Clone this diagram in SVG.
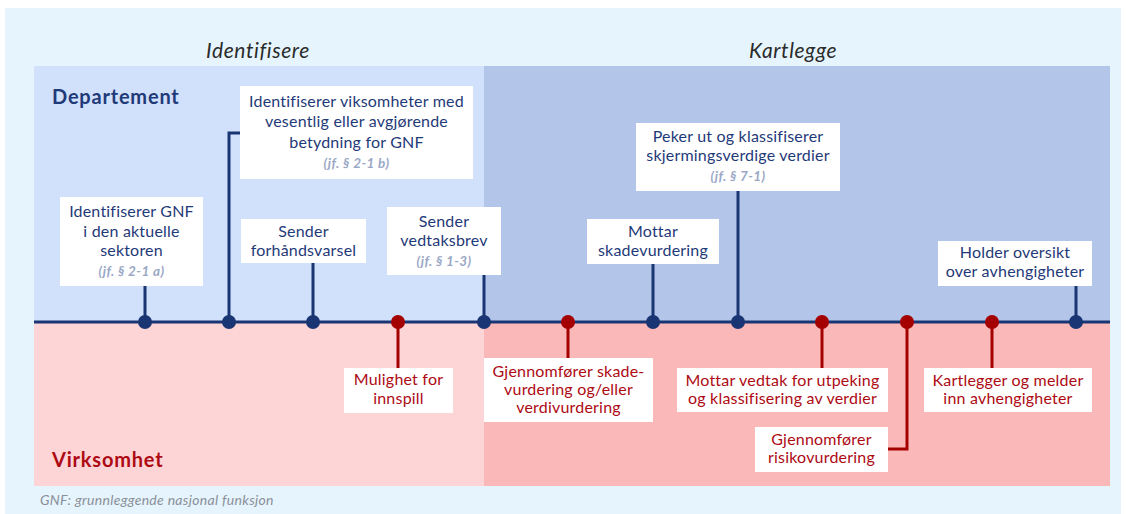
<svg xmlns="http://www.w3.org/2000/svg" width="1126" height="514" viewBox="0 0 1126 514">
  <style>
    .box { fill: #ffffff; }
    .t { font-family: Lato, "Open Sans", sans-serif; font-size: 16px; letter-spacing: 0.2px; text-anchor: middle; }
    .dep { fill: #1f3a78; }
    .vir { fill: #ad0a14; }
    .ref { font-family: Lato, "Open Sans", sans-serif; font-size: 13.5px; font-style: italic; font-weight: bold; letter-spacing: 0.4px; fill: #9aa8c6; text-anchor: middle; }
    .phase { font-family: Lato, "Open Sans", sans-serif; font-size: 21px; font-style: italic; letter-spacing: 0.6px; fill: #2b2b2b; text-anchor: middle; }
    .lane { font-family: Lato, "Open Sans", sans-serif; font-size: 20px; font-weight: bold; letter-spacing: 0.8px; }
    .sd { stroke: #1a3573; stroke-width: 3; fill: none; }
    .sr { stroke: #a50000; stroke-width: 3; fill: none; }
    .dd { fill: #1a3573; }
    .dr { fill: #a50000; }
  </style>

  <!-- background and lanes -->
  <rect x="5" y="8" width="1116" height="506" fill="#e6f5fd"/>
  <rect x="34" y="66" width="450" height="256" fill="#d1e0fb"/>
  <rect x="484" y="66" width="626" height="256" fill="#b3c6e9"/>
  <rect x="34" y="322" width="450" height="164" fill="#fdd5d6"/>
  <rect x="484" y="322" width="626" height="164" fill="#fbb8b8"/>

  <text class="phase" x="258" y="58">Identifisere</text>
  <text class="phase" x="793" y="58">Kartlegge</text>
  <text class="lane dep" x="52" y="104">Departement</text>
  <text class="lane vir" x="52" y="467">Virksomhet</text>
  <text x="40" y="505" font-family="Lato, sans-serif" font-size="14" font-style="italic" letter-spacing="0.3" fill="#8a8f99">GNF: grunnleggende nasjonal funksjon</text>

  <!-- connectors: timeline, stems and points -->
  <g id="connectors">
    <line class="sd" x1="34" y1="322" x2="1110" y2="322"/>
    <path class="sd" d="M145 286 V322"/>
    <path class="sd" d="M229 322 V133 H240"/>
    <path class="sd" d="M313 263 V322"/>
    <path class="sd" d="M484 275 V322"/>
    <path class="sd" d="M653 264 V322"/>
    <path class="sd" d="M738 191 V322"/>
    <path class="sd" d="M1076 286 V322"/>
    <path class="sr" d="M398 322 V368"/>
    <path class="sr" d="M568 322 V358"/>
    <path class="sr" d="M822 322 V368"/>
    <path class="sr" d="M907 322 V449 H888"/>
    <path class="sr" d="M992 322 V368"/>
    <circle class="dd" cx="145" cy="322" r="7"/>
    <circle class="dd" cx="229" cy="322" r="7"/>
    <circle class="dd" cx="313" cy="322" r="7"/>
    <circle class="dr" cx="398" cy="322" r="7"/>
    <circle class="dd" cx="484" cy="322" r="7"/>
    <circle class="dr" cx="568" cy="322" r="7"/>
    <circle class="dd" cx="653" cy="322" r="7"/>
    <circle class="dd" cx="738" cy="322" r="7"/>
    <circle class="dr" cx="822" cy="322" r="7"/>
    <circle class="dr" cx="907" cy="322" r="7"/>
    <circle class="dr" cx="992" cy="322" r="7"/>
    <circle class="dd" cx="1076" cy="322" r="7"/>
  </g>

  <!-- Departement steps -->
  <g id="identifiserer-gnf">
    <rect class="box" x="60" y="197" width="143" height="89"/>
    <text class="t dep" x="131.5" y="217">Identifiserer GNF</text>
    <text class="t dep" x="131.5" y="237">i den aktuelle</text>
    <text class="t dep" x="131.5" y="256">sektoren</text>
    <text class="ref" x="131.5" y="276">(jf. § 2-1 a)</text>
  </g>
  <g id="identifiserer-virksomheter">
    <rect class="box" x="240" y="86" width="233" height="93"/>
    <text class="t dep" x="356.5" y="107">Identifiserer viksomheter med</text>
    <text class="t dep" x="356.5" y="127">vesentlig eller avgjørende</text>
    <text class="t dep" x="356.5" y="148">betydning for GNF</text>
    <text class="ref" x="356.5" y="168">(jf. § 2-1 b)</text>
  </g>
  <g id="sender-forhandsvarsel">
    <rect class="box" x="241" y="219" width="125" height="44"/>
    <text class="t dep" x="303.5" y="237">Sender</text>
    <text class="t dep" x="303.5" y="256">forhåndsvarsel</text>
  </g>
  <g id="sender-vedtaksbrev">
    <rect class="box" x="387" y="207" width="114" height="68"/>
    <text class="t dep" x="444" y="227">Sender</text>
    <text class="t dep" x="444" y="246">vedtaksbrev</text>
    <text class="ref" x="444" y="266">(jf. § 1-3)</text>
  </g>
  <g id="mottar-skadevurdering">
    <rect class="box" x="587" y="219" width="132" height="45"/>
    <text class="t dep" x="653" y="237">Mottar</text>
    <text class="t dep" x="653" y="256">skadevurdering</text>
  </g>
  <g id="peker-ut">
    <rect class="box" x="636" y="123" width="204" height="68"/>
    <text class="t dep" x="738" y="142">Peker ut og klassifiserer</text>
    <text class="t dep" x="738" y="161">skjermingsverdige verdier</text>
    <text class="ref" x="738" y="181">(jf. § 7-1)</text>
  </g>
  <g id="holder-oversikt">
    <rect class="box" x="938" y="241" width="154" height="45"/>
    <text class="t dep" x="1015" y="258">Holder oversikt</text>
    <text class="t dep" x="1015" y="277">over avhengigheter</text>
  </g>

  <!-- Virksomhet steps -->
  <g id="mulighet-for-innspill">
    <rect class="box" x="344" y="368" width="109" height="45"/>
    <text class="t vir" x="398.5" y="385">Mulighet for</text>
    <text class="t vir" x="398.5" y="404">innspill</text>
  </g>
  <g id="skadevurdering">
    <rect class="box" x="484" y="358" width="169" height="64"/>
    <text class="t vir" x="568.5" y="377">Gjennomfører skade-</text>
    <text class="t vir" x="568.5" y="395">vurdering og/eller</text>
    <text class="t vir" x="568.5" y="413">verdivurdering</text>
  </g>
  <g id="mottar-vedtak">
    <rect class="box" x="677" y="368" width="211" height="44"/>
    <text class="t vir" x="782.5" y="386">Mottar vedtak for utpeking</text>
    <text class="t vir" x="782.5" y="404">og klassifisering av verdier</text>
  </g>
  <g id="risikovurdering">
    <rect class="box" x="755" y="427" width="133" height="45"/>
    <text class="t vir" x="821.5" y="445">Gjennomfører</text>
    <text class="t vir" x="821.5" y="463">risikovurdering</text>
  </g>
  <g id="kartlegger">
    <rect class="box" x="924" y="368" width="168" height="44"/>
    <text class="t vir" x="1008" y="386">Kartlegger og melder</text>
    <text class="t vir" x="1008" y="404">inn avhengigheter</text>
  </g>
</svg>
